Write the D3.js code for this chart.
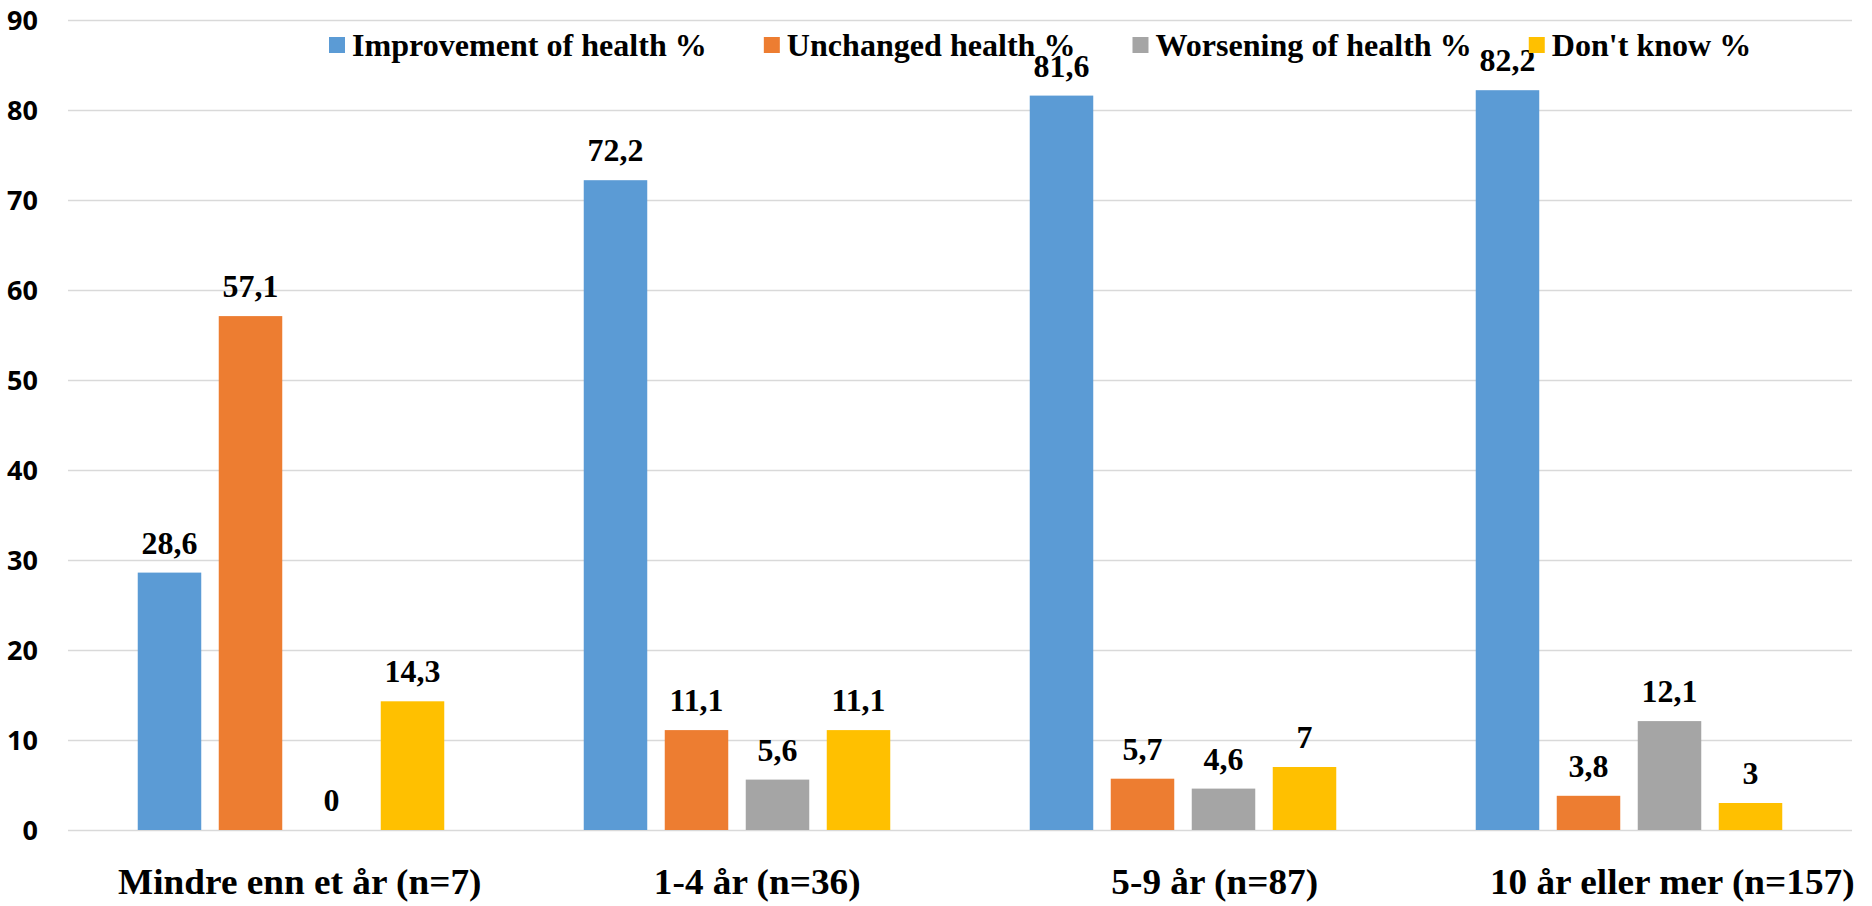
<!DOCTYPE html>
<html><head><meta charset="utf-8">
<script src="https://cdn.jsdelivr.net/npm/d3@7"></script>
<style>body{margin:0;background:#fff}</style>
</head><body><svg id="chart" width="1872" height="906"></svg>
<script>
const categories = ["Mindre enn et år (n=7)", "1-4 år (n=36)", "5-9 år (n=87)", "10 år eller mer (n=157)"];
const seriesNames = ["Improvement of health %", "Unchanged health %", "Worsening of health %", "Don't know %"];
const improvement = [28.6, 72.2, 81.6, 82.2];
const unchanged = [57.1, 11.1, 5.7, 3.8];
const worsening = [0, 5.6, 4.6, 12.1];
const dontKnow = [14.3, 11.1, 7, 3];
const yTicks = [0, 10, 20, 30, 40, 50, 60, 70, 80, 90];
const colors = ["#5B9BD5", "#ED7D31", "#A5A5A5", "#FFC000"];

const seriesValues = [improvement, unchanged, worsening, dontKnow];
const svg = d3.select("#chart");
const plotLeft = 68, plotRight = 1852, plotTop = 20, plotBottom = 830;
const serif = "'Liberation Serif', 'Times New Roman', Times, serif";
const stretch = 1.035;

const y = d3.scaleLinear().domain([0, 90]).range([plotBottom, plotTop]);
const x0 = d3.scaleBand().domain(categories).range([plotLeft, plotRight]).padding(0);
const x1 = d3.scaleBand().domain(seriesNames).range([0, x0.bandwidth()]).paddingInner(0.216).paddingOuter(0.861);
const xLab = d3.scaleBand().domain(categories).range([71, 1901]).padding(0);

// grid + y axis
const yAxis = d3.axisLeft(y).tickValues(yTicks).tickSize(-(plotRight - plotLeft)).tickPadding(30).tickFormat(d3.format("d"));
const ga = svg.append("g").attr("transform", `translate(${plotLeft},0)`).call(yAxis);
ga.select(".domain").remove();
ga.selectAll(".tick line").attr("stroke", "#d9d9d9").attr("stroke-width", 1.4);
ga.selectAll(".tick text").attr("fill", "#000").style("font-family", "'Open Sans', sans-serif")
  .style("font-weight", 700).style("font-size", "27px").attr("dy", "0.36em");

// bars
const rows = categories.map((c, i) => ({cat: c, vals: seriesNames.map((s, j) => ({s, j, v: seriesValues[j][i]}))}));
const g = svg.append("g").selectAll("g").data(rows).join("g").attr("transform", d => `translate(${x0(d.cat)},0)`);
g.selectAll("rect").data(d => d.vals).join("rect")
  .attr("x", d => x1(d.s)).attr("width", x1.bandwidth())
  .attr("y", d => y(d.v)).attr("height", d => y(0) - y(d.v))
  .attr("fill", d => colors[d.j]);
g.selectAll("text").data(d => d.vals).join("text")
  .attr("transform", d => `translate(${x1(d.s) + x1.bandwidth() / 2},${y(d.v) - 19}) scale(1.03,1)`)
  .attr("text-anchor", "middle")
  .style("font-family", serif).style("font-weight", 700).style("font-size", "31px")
  .text(d => String(d.v).replace(".", ","));

// x labels
svg.append("g").selectAll("text").data(categories).join("text")
  .attr("transform", d => `translate(${xLab(d) + xLab.bandwidth() / 2},894) scale(${stretch},1)`)
  .attr("text-anchor", "middle")
  .style("font-family", serif).style("font-weight", 700).style("font-size", "36px")
  .text(d => d);

// legend
const lg = svg.append("g");
let lx = 329;
seriesNames.forEach((s, j) => {
  lg.append("rect").attr("x", lx).attr("y", 37).attr("width", 16).attr("height", 16).attr("fill", colors[j]);
  const t = lg.append("text").attr("transform", `translate(${lx + 23},56) scale(${stretch},1)`)
    .style("font-family", serif).style("font-weight", 700).style("font-size", "31px")
    .text(s);
  const w = t.node().getComputedTextLength() * stretch;
  lx = lx + 23 + w + 57;
});
</script></body></html>
